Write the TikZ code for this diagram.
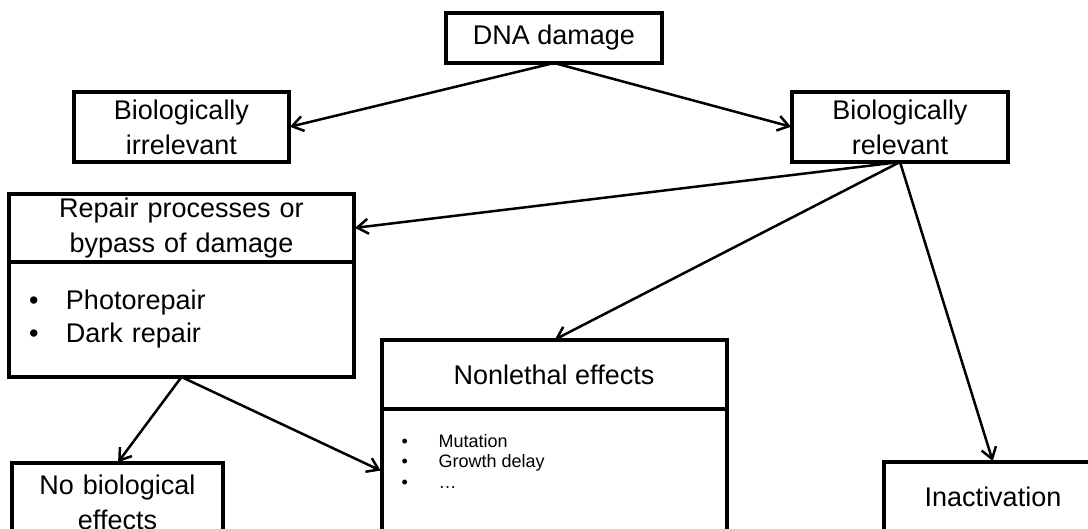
\documentclass[tikz,border=0pt]{standalone}
\usepackage{fontspec}
\setmainfont{Liberation Sans}
\usepackage{tikz}
\usetikzlibrary{positioning, arrows.meta}
\newcommand{\blt}{\makebox[37pt][l]{\textbullet}}

\begin{document}
\begin{tikzpicture}[x=1pt, y=-1pt]
    % Block styles
    \tikzstyle{block} = [rectangle, draw, line width=4pt, outer sep=0pt, inner sep=0pt, text centered, font=\fontsize{27}{35}\selectfont]
    \tikzstyle{block_list} = [rectangle, draw, line width=4pt, outer sep=0pt, inner xsep=20pt, inner ysep=0pt, align=left, font=\fontsize{27}{33}\selectfont]
    \tikzstyle{arrow} = [-{Straight Barb[length=11pt, width=15pt]}, line width=2.5pt, shorten >=1pt]
    \useasboundingbox (0,0) rectangle (1088,529);
    % Boxes
    \node[block, minimum width=216pt, minimum height=50pt] (dna) at (554,38) {DNA damage};
    \node[block, text width=215pt, minimum height=70pt, below left=29pt and 157pt of dna] (irrel) {Biologically\\irrelevant};
    \node[block, text width=216pt, minimum height=70pt, below right=29pt and 130pt of dna] (rel) {Biologically\\relevant};
    \node[block, text width=345pt, minimum height=68pt, below=32pt of irrel] (repair_title) {Repair processes or\\bypass of damage};
    \node[block_list, text width=305pt, minimum height=115pt, below=0pt of repair_title] (repair_list) {\blt Photorepair\\\blt Dark repair};
    \node[block, minimum width=345pt, minimum height=69pt, below=277pt of dna] (nonlethal_title) {Nonlethal effects};
    \node[block, minimum width=345pt, minimum height=124pt, below=0pt of nonlethal_title] (nonlethal_list) {};
    \node[align=left, inner sep=0pt, font=\fontsize{18}{20.5}\selectfont, below right=25pt and 20pt of nonlethal_list.north west] (nonlethal_items) {\blt Mutation\\\blt Growth delay\\\blt …};
    \node[block, text width=211pt, minimum height=78pt, below=86pt of repair_list, xshift=-64pt] (nobio) {No biological\\effects};
    \node[block, minimum width=218pt, minimum height=70pt, below=300pt of rel, xshift=93pt] (inact) {Inactivation};
    % Connections
    \draw[arrow] (dna.south) -- (irrel.east);
    \draw[arrow] (dna.south) -- (rel.west);
    \draw[arrow] (rel.south) -- (repair_title.east);
    \draw[arrow] (rel.south) -- (nonlethal_title.north);
    \draw[arrow] (rel.south) -- (inact.north);
    \draw[arrow] (repair_list.south) -- (nobio.north);
    \draw[arrow] (repair_list.south) -- (nonlethal_list.west);
\end{tikzpicture}
\end{document}
